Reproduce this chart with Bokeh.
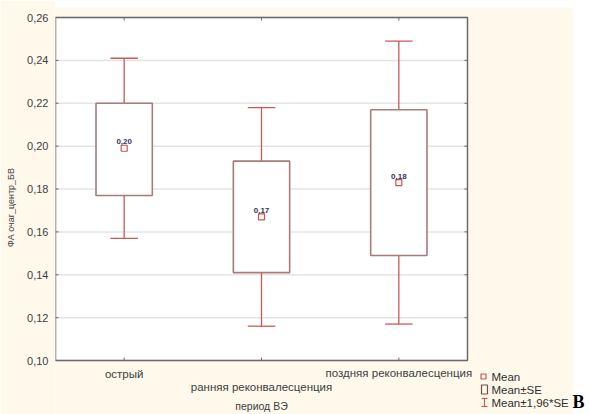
from bokeh.plotting import figure
from bokeh.models import Range1d, FixedTicker, CustomJSTickFormatter
from bokeh.embed import file_html
from bokeh.resources import INLINE

# ---- data ----
categories = ["острый", "ранняя реконвалесценция", "поздняя реконвалесценция"]
means = [0.199, 0.167, 0.183]
se_low = [0.177, 0.141, 0.149]
se_high = [0.220, 0.193, 0.217]
ci_low = [0.157, 0.116, 0.117]
ci_high = [0.241, 0.218, 0.249]
y_ticks = [0.10, 0.12, 0.14, 0.16, 0.18, 0.20, 0.22, 0.24, 0.26]
x_title = "период ВЭ"
y_title = "ФА очаг_центр_БВ"
legend_labels = ["Mean", "Mean±SE", "Mean±1,96*SE"]

# ---- layout (canvas pixels) ----
W, H = 589, 414
BL, BT, BR, BB = 55, 17, 467, 360          # visible plot box
YMIN, YMAX = y_ticks[0], y_ticks[-1]
NCAT = len(categories)
PXX = (BR - BL) / NCAT
PXY = (BB - BT) / (YMAX - YMIN)

def X(px):
    return (px - BL) / PXX
def Y(py):
    return YMIN + (BB - py) / PXY

CREAM = "#FFF9EC"
FONT = "Liberation Sans"
FRAME = "#6a6a6a"
BOX = "#a87a7a"
WHISK = "#c85a5a"
MEANC = "#d05050"
TXT = "#404040"

p = figure(width=W, height=H, output_backend="svg", toolbar_location=None,
           x_range=Range1d(0, X(W)), y_range=Range1d(Y(H), Y(0)),
           min_border_left=BL, min_border_top=0, min_border_right=0, min_border_bottom=0,
           x_axis_location=None)
p.border_fill_color = CREAM
p.background_fill_color = CREAM
p.outline_line_color = None
p.xgrid.grid_line_color = None
p.ygrid.grid_line_color = None

# y axis (real axis, bounded to the plot box)
yax = p.yaxis[0]
yax.bounds = (YMIN, YMAX)
yax.ticker = FixedTicker(ticks=y_ticks)
yax.formatter = CustomJSTickFormatter(code="return tick.toFixed(2).replace('.', ',');")
yax.major_tick_in = 0
yax.major_tick_out = 0
yax.minor_tick_line_color = None
yax.axis_line_color = None
yax.major_label_text_font = FONT
yax.major_label_text_font_size = "11px"
yax.major_label_text_color = TXT
yax.major_label_standoff = 7
yax.axis_label = y_title
yax.axis_label_text_font = FONT
yax.axis_label_text_font_size = "9px"
yax.axis_label_text_font_style = "normal"
yax.axis_label_text_color = TXT
yax.axis_label_standoff = 8

xpos = [i + 0.5 for i in range(NCAT)]

# white margin above the cream sheet and on the right
p.quad(left=[X(0)], right=[X(W)], bottom=[Y(7)], top=[Y(0)], fill_color="white",
       line_color=None)
p.quad(left=[X(573)], right=[X(W)], bottom=[Y(H)], top=[Y(0)],
       fill_color="white", line_color=None)

# white plot box
p.quad(left=[0], right=[NCAT], bottom=[YMIN], top=[YMAX], fill_color="white",
       line_color=None)
# horizontal grid
p.segment(x0=[0] * len(y_ticks), x1=[NCAT] * len(y_ticks), y0=y_ticks, y1=y_ticks,
          line_color="#e4e4e4", line_width=1.5)

# whiskers
hw = 0.205
cw = 0.10
p.segment(x0=xpos, y0=se_high, x1=xpos, y1=ci_high, line_color=WHISK, line_width=1.3)
p.segment(x0=xpos, y0=se_low, x1=xpos, y1=ci_low, line_color=WHISK, line_width=1.3)
p.segment(x0=[x - cw for x in xpos], y0=ci_high, x1=[x + cw for x in xpos], y1=ci_high,
          line_color=WHISK, line_width=1.3)
p.segment(x0=[x - cw for x in xpos], y0=ci_low, x1=[x + cw for x in xpos], y1=ci_low,
          line_color=WHISK, line_width=1.3)
# SE boxes
p.quad(left=[x - hw for x in xpos], right=[x + hw for x in xpos],
       bottom=se_low, top=se_high, fill_color="white", line_color=BOX, line_width=1.6)
# means
p.scatter(x=xpos, y=means, marker="square", size=6, fill_color="white",
          line_color=MEANC, line_width=1.2)
p.text(x=xpos, y=means, text=[f"{m:.2f}".replace(".", ",") for m in means],
       text_font_size="8px", text_font_style="bold", text_color="#33335a",
       text_align="center", text_baseline="bottom", y_offset=-4,
       text_font={"value": FONT})

# plot box outline and inward ticks
p.quad(left=[0], right=[NCAT], bottom=[YMIN], top=[YMAX], fill_color=None,
       line_color=FRAME, line_width=1.5)
tk = 3
p.segment(x0=[0] * len(y_ticks), x1=[tk / PXX] * len(y_ticks), y0=y_ticks, y1=y_ticks,
          line_color=FRAME, line_width=1)
p.segment(x0=[NCAT - tk / PXX] * len(y_ticks), x1=[NCAT] * len(y_ticks), y0=y_ticks,
          y1=y_ticks, line_color=FRAME, line_width=1)
p.segment(x0=xpos, x1=xpos, y0=[YMIN] * NCAT, y1=[YMIN + tk / PXY] * NCAT,
          line_color=FRAME, line_width=1)
p.segment(x0=xpos, x1=xpos, y0=[YMAX] * NCAT, y1=[YMAX - tk / PXY] * NCAT,
          line_color=FRAME, line_width=1)

# category labels (staggered) and x title
cat_py = [373, 386, 372]
p.text(x=xpos, y=[Y(v) for v in cat_py], text=categories,
       text_font={"value": FONT}, text_font_size="11.5px", text_color=TXT,
       text_align="center", text_baseline="middle")
p.text(x=[NCAT / 2], y=[Y(405)], text=[x_title], text_font={"value": FONT},
       text_font_size="10.5px", text_color=TXT, text_align="center",
       text_baseline="middle")

# legend
rows_y = [376, 389, 402]
ix = 484
p.scatter(x=[X(ix - 1)], y=[Y(rows_y[0])], marker="square", size=5,
          fill_color=None, line_color=MEANC, line_width=1.2)
p.quad(left=[X(ix - 3)], right=[X(ix + 3)], top=[Y(rows_y[1] - 4.5)],
       bottom=[Y(rows_y[1] + 4.5)], fill_color=None, line_color="#7a4a4a", line_width=1.2)
p.segment(x0=[X(ix), X(ix - 3), X(ix - 3)],
          y0=[Y(rows_y[2] - 4), Y(rows_y[2] - 4), Y(rows_y[2] + 4)],
          x1=[X(ix), X(ix + 3), X(ix + 3)],
          y1=[Y(rows_y[2] + 4), Y(rows_y[2] - 4), Y(rows_y[2] + 4)],
          line_color=WHISK, line_width=1.2)
p.text(x=[X(491)] * 3, y=[Y(v) for v in rows_y], text=legend_labels,
       text_font={"value": FONT}, text_font_size="11.5px", text_color="#303030",
       text_align="left", text_baseline="middle")
p.text(x=[X(572)], y=[Y(411)], text=["B"], text_font={"value": "Liberation Serif"},
       text_font_size="18px", text_font_style="bold", text_color="#000000",
       text_align="left", text_baseline="bottom")

open("out.html", "w").write(file_html(p, INLINE))
